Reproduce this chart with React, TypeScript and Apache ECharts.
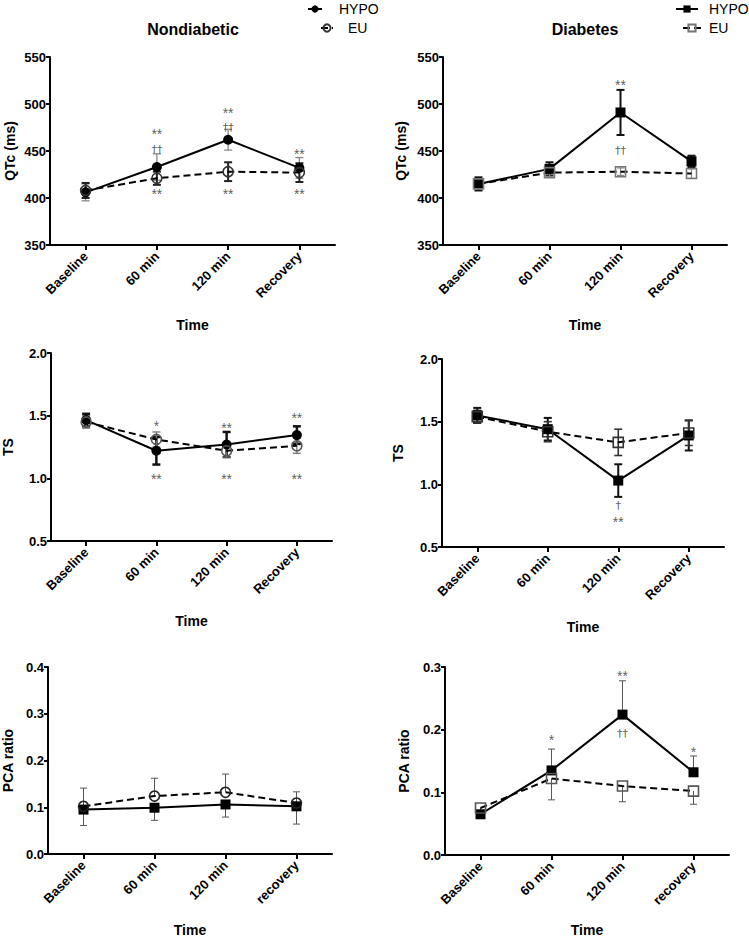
import React, { useEffect, useRef } from "react";
import * as echarts from "echarts";

// ---------- categories ----------
const catsUpper = ["Baseline", "60 min", "120 min", "Recovery"];
const catsLower = ["Baseline", "60 min", "120 min", "recovery"];

// ---------- Nondiabetic QTc ----------
const ndQtcHypo = [406, 433, 462, 432];
const ndQtcHypoErr = [9, 14, 11, 11];
const ndQtcEu = [408, 421, 428, 427];
const ndQtcEuErr = [8, 7, 10, 10];
const ndQtcAnnot: [number, number, string][] = [
  [1, 472, "**"], [1, 453, "††"], [1, 408, "**"],
  [2, 495, "**"], [2, 476, "††"], [2, 408, "**"],
  [3, 451, "**"], [3, 408, "**"],
];

// ---------- Diabetes QTc ----------
const dQtcHypo = [415, 431, 491, 439];
const dQtcHypoErr = [7, 7, 24, 6];
const dQtcEu = [415, 427, 428, 426];
const dQtcEuErr = [5, 4, 4, 5];
const dQtcAnnot: [number, number, string][] = [
  [2, 525, "**"], [2, 452, "††"],
];

// ---------- Nondiabetic TS ----------
const ndTsHypo = [1.465, 1.22, 1.27, 1.345];
const ndTsHypoErr = [0.05, 0.11, 0.1, 0.07];
const ndTsEu = [1.45, 1.31, 1.22, 1.26];
const ndTsEuErr = [0.05, 0.06, 0.05, 0.06];
const ndTsAnnot: [number, number, string][] = [
  [1, 1.45, "*"], [1, 1.03, "**"],
  [2, 1.43, "**"], [2, 1.03, "**"],
  [3, 1.51, "**"], [3, 1.03, "**"],
];

// ---------- Diabetes TS ----------
const dTsHypo = [1.55, 1.44, 1.03, 1.39];
const dTsHypoErr = [0.06, 0.09, 0.13, 0.12];
const dTsEu = [1.54, 1.42, 1.335, 1.41];
const dTsEuErr = [0.05, 0.08, 0.105, 0.1];
const dTsAnnot: [number, number, string][] = [
  [2, 0.84, "†"], [2, 0.73, "**"],
];

// ---------- Nondiabetic PCA ratio (one-sided bars) ----------
const ndPcaHypo = [0.095, 0.099, 0.106, 0.102];
const ndPcaHypoErrDown = [0.034, 0.027, 0.027, 0.038];
const ndPcaEu = [0.102, 0.124, 0.132, 0.109];
const ndPcaEuErrUp = [0.039, 0.038, 0.039, 0.024];

// ---------- Diabetes PCA ratio (one-sided bars) ----------
const dPcaHypo = [0.065, 0.135, 0.224, 0.132];
const dPcaHypoErrUp = [0.006, 0.034, 0.054, 0.026];
const dPcaEu = [0.075, 0.122, 0.11, 0.102];
const dPcaEuErrDown = [0.012, 0.034, 0.025, 0.021];
const dPcaAnnot: [number, number, string][] = [
  [1, 0.19, "*"], [2, 0.292, "**"], [2, 0.196, "††"], [3, 0.17, "*"],
];

const zeros = [0, 0, 0, 0];
const FONT = "Arial, 'Liberation Sans', Helvetica, sans-serif";
const DAGGER_FONT = "'DejaVu Sans', 'Liberation Sans', sans-serif";

function errBars(
  idx: number,
  means: number[],
  up: number[],
  down: number[],
  color: string,
  width: number,
  cap: number
) {
  return {
    type: "custom",
    name: "err" + idx + color + width,
    xAxisIndex: idx,
    yAxisIndex: idx,
    z: 1,
    silent: true,
    data: means.map((m, i) => [i, m - down[i], m + up[i], m]),
    renderItem: (params: any, api: any) => {
      const x = api.value(0);
      const lo = api.value(1);
      const hi = api.value(2);
      const m = api.value(3);
      const pLo = api.coord([x, lo]);
      const pHi = api.coord([x, hi]);
      const style = { stroke: color, lineWidth: width, fill: "none" };
      const children: any[] = [
        { type: "line", shape: { x1: pLo[0], y1: pLo[1], x2: pHi[0], y2: pHi[1] }, style },
      ];
      if (hi > m)
        children.push({ type: "line", shape: { x1: pHi[0] - cap / 2, y1: pHi[1], x2: pHi[0] + cap / 2, y2: pHi[1] }, style });
      if (lo < m)
        children.push({ type: "line", shape: { x1: pLo[0] - cap / 2, y1: pLo[1], x2: pLo[0] + cap / 2, y2: pLo[1] }, style });
      return { type: "group", children };
    },
  };
}

function lineSeries(
  idx: number,
  name: string,
  data: number[],
  symbol: string,
  filled: boolean,
  dashed: boolean,
  markerColor: string
) {
  return {
    type: "line",
    name,
    xAxisIndex: idx,
    yAxisIndex: idx,
    data,
    z: 3,
    symbol,
    symbolSize: 10,
    showSymbol: true,
    lineStyle: { color: "#000", width: 2, type: dashed ? [7, 4] : "solid" },
    itemStyle: filled
      ? { color: "#000", borderColor: "#000", borderWidth: 0 }
      : { color: "rgba(255,255,255,0)", borderColor: markerColor, borderWidth: 1.6 },
    emphasis: { disabled: true },
  };
}

function annotSeries(idx: number, annots: [number, number, string][]) {
  return {
    type: "scatter",
    name: "annot" + idx,
    xAxisIndex: idx,
    yAxisIndex: idx,
    z: 5,
    silent: true,
    symbolSize: 1,
    itemStyle: { color: "rgba(0,0,0,0)" },
    data: annots.map((a) => {
      const star = a[2].includes("*");
      return {
        value: [a[0], a[1]],
        label: star
          ? { offset: [0, 4], fontSize: 14, fontFamily: FONT }
          : { offset: [0, 1], fontSize: 11, fontFamily: DAGGER_FONT },
      };
    }),
    label: {
      show: true,
      position: "inside",
      formatter: (p: any) => annots[p.dataIndex][2],
      color: "#333",
      fontSize: 14,
      fontFamily: FONT,
    },
  };
}

const grids = [
  { left: 50, top: 57, width: 285, height: 188 },
  { left: 443, top: 57, width: 284, height: 188 },
  { left: 50, top: 353, width: 282, height: 188 },
  { left: 442, top: 359, width: 282, height: 188 },
  { left: 48, top: 667, width: 284, height: 189 },
  { left: 445, top: 667, width: 284, height: 188 },
];

const yConf = [
  { min: 350, max: 550, interval: 50, name: "QTc (ms)", gap: 33, dec: 0 },
  { min: 350, max: 550, interval: 50, name: "QTc (ms)", gap: 35, dec: 0 },
  { min: 0.5, max: 2.0, interval: 0.5, name: "TS", gap: 36, dec: 1 },
  { min: 0.5, max: 2.0, interval: 0.5, name: "TS", gap: 37, dec: 1 },
  { min: 0, max: 0.4, interval: 0.1, name: "PCA ratio", gap: 33, dec: 1 },
  { min: 0, max: 0.3, interval: 0.1, name: "PCA ratio", gap: 34, dec: 1 },
];
const xGaps = [73, 73, 73, 73, 69, 68];

export default function App() {
  const ref = useRef<HTMLDivElement>(null);
  useEffect(() => {
    if (!ref.current) return;
    const chart = echarts.init(ref.current, null, { renderer: "svg" });
    const axisLine = { show: true, onZero: false, lineStyle: { color: "#000", width: 2 } };
    const option: any = {
      animation: false,
      backgroundColor: "#fff",
      textStyle: { fontFamily: FONT },
      title: [
        { text: "Nondiabetic", left: 193, top: 21, textAlign: "center", padding: 0,
          textStyle: { fontSize: 16, fontWeight: "bold", color: "#000", fontFamily: FONT } },
        { text: "Diabetes", left: 585, top: 21, textAlign: "center", padding: 0,
          textStyle: { fontSize: 16, fontWeight: "bold", color: "#000", fontFamily: FONT } },
      ],
      legend: [
        { data: ["HYPO"], left: 307, top: 2, itemWidth: 14, itemHeight: 9, padding: 0, selectedMode: false,
          textStyle: { fontSize: 14, color: "#000", fontFamily: FONT, padding: [0, 0, 0, 12] } },
        { data: ["EU"], left: 320, top: 21, itemWidth: 12, itemHeight: 9, padding: 0, selectedMode: false,
          textStyle: { fontSize: 14, color: "#000", fontFamily: FONT, padding: [0, 0, 0, 10] } },
        { data: ["HYPO_D"], left: 675, top: 2, itemWidth: 22, itemHeight: 9, padding: 0, selectedMode: false,
          formatter: (n: string) => n.replace("_D", ""),
          textStyle: { fontSize: 14, color: "#000", fontFamily: FONT, padding: [0, 0, 0, 6] } },
        { data: ["EU_D"], left: 682, top: 21, itemWidth: 18, itemHeight: 9, padding: 0, selectedMode: false,
          formatter: (n: string) => n.replace("_D", ""),
          textStyle: { fontSize: 14, color: "#000", fontFamily: FONT, padding: [0, 0, 0, 3] } },
      ],
      grid: grids.map((g) => ({ ...g, containLabel: false })),
      xAxis: grids.map((g, i) => ({
        type: "category",
        gridIndex: i,
        data: i >= 4 ? catsLower : catsUpper,
        boundaryGap: true,
        name: "Time",
        nameLocation: "middle",
        nameGap: xGaps[i],
        nameTextStyle: { fontSize: 14, fontWeight: "bold", color: "#000", fontFamily: FONT },
        axisLine,
        axisTick: { show: true, alignWithLabel: true, length: 5, lineStyle: { color: "#000", width: 2 } },
        axisLabel: { rotate: 45, margin: 9, fontSize: 13, fontWeight: "bold", color: "#000", fontFamily: FONT, interval: 0 },
        splitLine: { show: false },
      })),
      yAxis: yConf.map((c, i) => ({
        type: "value",
        gridIndex: i,
        min: c.min,
        max: c.max,
        interval: c.interval,
        name: c.name,
        nameLocation: "middle",
        nameGap: c.gap,
        nameTextStyle: { fontSize: 14, fontWeight: "bold", color: "#000", fontFamily: FONT },
        axisLine,
        axisTick: { show: true, length: 4, lineStyle: { color: "#000", width: 2 } },
        axisLabel: {
          margin: 4, fontSize: 13, fontWeight: "bold", color: "#000", fontFamily: FONT,
          formatter: (v: number) => v.toFixed(c.dec),
        },
        splitLine: { show: false },
      })),
      series: [
        // Panel 0: Nondiabetic QTc
        errBars(0, ndQtcHypo, ndQtcHypoErr, ndQtcHypoErr, "#888", 1.3, 8),
        errBars(0, ndQtcEu, ndQtcEuErr, ndQtcEuErr, "#222", 2, 8),
        lineSeries(0, "HYPO", ndQtcHypo, "circle", true, false, "#000"),
        lineSeries(0, "EU", ndQtcEu, "circle", false, true, "#333"),
        annotSeries(0, ndQtcAnnot),
        // Panel 1: Diabetes QTc
        errBars(1, dQtcHypo, dQtcHypoErr, dQtcHypoErr, "#111", 2, 8),
        errBars(1, dQtcEu, dQtcEuErr, dQtcEuErr, "#888", 1.2, 7),
        lineSeries(1, "HYPO_D", dQtcHypo, "rect", true, false, "#000"),
        lineSeries(1, "EU_D", dQtcEu, "rect", false, true, "#777"),
        annotSeries(1, dQtcAnnot),
        // Panel 2: Nondiabetic TS
        errBars(2, ndTsHypo, ndTsHypoErr, ndTsHypoErr, "#111", 2.5, 8),
        errBars(2, ndTsEu, ndTsEuErr, ndTsEuErr, "#777", 1.3, 8),
        lineSeries(2, "ndTsHypo", ndTsHypo, "circle", true, false, "#000"),
        lineSeries(2, "ndTsEu", ndTsEu, "circle", false, true, "#555"),
        annotSeries(2, ndTsAnnot),
        // Panel 3: Diabetes TS
        errBars(3, dTsHypo, dTsHypoErr, dTsHypoErr, "#111", 2, 8),
        errBars(3, dTsEu, dTsEuErr, dTsEuErr, "#333", 1.6, 8),
        lineSeries(3, "dTsHypo", dTsHypo, "rect", true, false, "#000"),
        lineSeries(3, "dTsEu", dTsEu, "rect", false, true, "#333"),
        annotSeries(3, dTsAnnot),
        // Panel 4: Nondiabetic PCA
        errBars(4, ndPcaHypo, zeros, ndPcaHypoErrDown, "#555", 1, 7),
        errBars(4, ndPcaEu, ndPcaEuErrUp, zeros, "#555", 1, 7),
        lineSeries(4, "ndPcaHypo", ndPcaHypo, "rect", true, false, "#000"),
        lineSeries(4, "ndPcaEu", ndPcaEu, "circle", false, true, "#222"),
        // Panel 5: Diabetes PCA
        errBars(5, dPcaHypo, dPcaHypoErrUp, zeros, "#555", 1, 7),
        errBars(5, dPcaEu, zeros, dPcaEuErrDown, "#555", 1, 7),
        lineSeries(5, "dPcaHypo", dPcaHypo, "rect", true, false, "#000"),
        lineSeries(5, "dPcaEu", dPcaEu, "rect", false, true, "#555"),
        annotSeries(5, dPcaAnnot),
      ],
    };
    chart.setOption(option);
    return () => chart.dispose();
  }, []);
  return (
    <div
      ref={ref}
      style={{ position: "absolute", left: 0, top: 0, width: 749, height: 938, background: "#fff" }}
    />
  );
}
